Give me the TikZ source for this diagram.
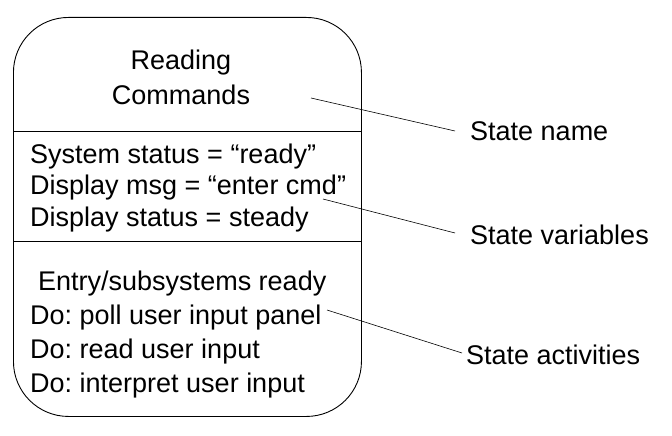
\documentclass[tikz,border=0pt]{standalone}
\usepackage{fontspec}
\setmainfont{Liberation Sans}
\frenchspacing
\begin{document}
\begin{tikzpicture}[x=1pt,y=-1pt,
  txt/.style={anchor=base west,inner sep=0pt,font=\fontsize{27}{32}\selectfont},
  ctxt/.style={anchor=base,inner sep=0pt,font=\fontsize{27}{32}\selectfont},
  lead/.style={draw,line width=0.6pt}]
\useasboundingbox (0,0) rectangle (672,436);
\node[draw,line width=0.9pt,rounded corners=55pt,minimum width=348pt,minimum height=399pt,anchor=north west,inner sep=0pt] (box) at (13,17) {};
\coordinate (l1a) at (13,131); \coordinate (l1b) at (361,131);
\coordinate (l2a) at (13,241); \coordinate (l2b) at (361,241);
\draw[line width=0.9pt] (l1a) -- (l1b);
\draw[line width=0.9pt] (l2a) -- (l2b);
\node[ctxt] (n1) at (181,70) {Reading};
\node[ctxt] (n2) at (181,104) {Commands};
\node[txt] (v1) at (30,163) {System status = “ready”};
\node[txt] (v2) at (30,194) {Display msg = “enter cmd”};
\node[txt] (v3) at (30,226) {Display status = steady};
\node[txt] (a1) at (38,290) {Entry/subsystems ready};
\node[txt] (a2) at (30,324) {Do: poll user input panel};
\node[txt] (a3) at (30,358) {Do: read user input};
\node[txt] (a4) at (30,392) {Do: interpret user input};
\node[txt] (s1) at (470,140) {State name};
\node[txt] (s2) at (470,244) {State variables};
\node[txt] (s3) at (466,364) {State activities};
\coordinate (p1) at (311,98); \coordinate (q1) at (455,131);
\coordinate (p2) at (323,199); \coordinate (q2) at (455,233);
\coordinate (p3) at (327,310); \coordinate (q3) at (462,353);
\draw[lead] (p1) -- (q1);
\draw[lead] (p2) -- (q2);
\draw[lead] (p3) -- (q3);
\end{tikzpicture}
\end{document}
